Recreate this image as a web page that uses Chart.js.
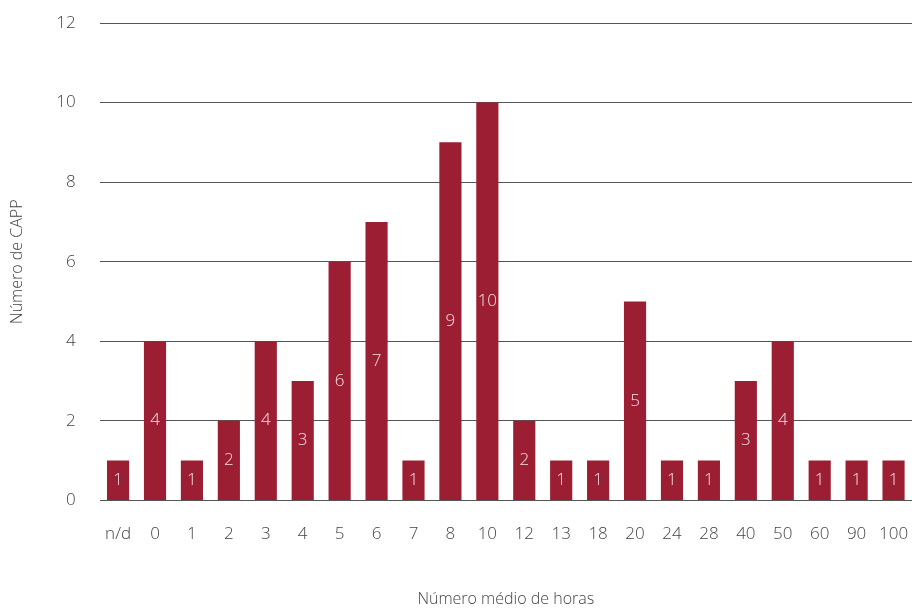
<!DOCTYPE html>
<html>
<head>
<meta charset="utf-8">
<script src="https://cdn.jsdelivr.net/npm/chart.js@4"></script>
<style>
  html, body { margin: 0; padding: 0; background: #fff; overflow: hidden; }
  .container { width: 915px; height: 610px; }
  canvas { display: block; }
</style>
</head>
<body>
<div class="container"><canvas id="myChart"></canvas></div>
<script>
const categories = ["n/d", "0", "1", "2", "3", "4", "5", "6", "7", "8", "10", "12", "13", "18", "20", "24", "28", "40", "50", "60", "90", "100"];
const cappCount = [1, 4, 1, 2, 4, 3, 6, 7, 1, 9, 10, 2, 1, 1, 5, 1, 1, 3, 4, 1, 1, 1];
const yTicks = [0, 2, 4, 6, 8, 10, 12];

const fontFamily = "'Open Sans', 'Noto Sans', sans-serif";

// labels in the middle of each bar
const barLabels = {
    id: 'barLabels',
    afterDatasetsDraw(chart) {
        const ctx = chart.ctx;
        const meta = chart.getDatasetMeta(0);
        ctx.save();
        ctx.font = "300 17px " + fontFamily;
        ctx.fillStyle = '#f3e3e6';
        ctx.textAlign = 'center';
        ctx.textBaseline = 'middle';
        meta.data.forEach((bar, i) => {
            const yMid = (bar.y + bar.base) / 2;
            ctx.fillText(String(cappCount[i]), bar.x, yMid);
        });
        ctx.restore();
    }
};

const ctx = document.getElementById('myChart').getContext('2d');
const myChart = new Chart(ctx, {
    type: 'bar',
    data: {
        labels: categories,
        datasets: [{
            label: 'Número de CAPP',
            data: cappCount,
            backgroundColor: '#9b1e33',
            barPercentage: 0.6,
            categoryPercentage: 1.0
        }]
    },
    options: {
        responsive: true,
        maintainAspectRatio: false,
        animation: false,
        layout: {
            padding: { left: 8, right: 3, top: 23, bottom: 1 }
        },
        plugins: {
            legend: { display: false },
            tooltip: { enabled: false }
        },
        scales: {
            x: {
                afterFit(scale) {
                    scale.paddingLeft = 0;
                    scale.paddingRight = 0;
                },
                grid: { display: false, drawTicks: false },
                border: { display: false },
                ticks: {
                    color: '#444',
                    font: { family: fontFamily, size: 17, weight: '300' },
                    padding: 24,
                    maxRotation: 0,
                    autoSkip: false
                },
                title: {
                    display: true,
                    text: 'Número médio de horas',
                    color: '#444',
                    font: { family: fontFamily, size: 16, weight: '300' },
                    padding: { top: 21, bottom: 0 }
                }
            },
            y: {
                min: 0,
                max: 12,
                afterBuildTicks(axis) {
                    axis.ticks = yTicks.map(v => ({ value: v }));
                },
                afterFit(scale) {
                    scale.paddingTop = 0;
                    scale.paddingBottom = 0;
                },
                grid: {
                    color: '#555',
                    lineWidth: 1,
                    drawTicks: false
                },
                border: { display: false },
                ticks: {
                    color: '#444',
                    font: { family: fontFamily, size: 17, weight: '300' },
                    padding: 24
                },
                title: {
                    display: true,
                    text: 'Número de CAPP',
                    color: '#444',
                    font: { family: fontFamily, size: 16, weight: '300' },
                    padding: { top: 0, bottom: 5 }
                }
            }
        }
    },
    plugins: [barLabels]
});
</script>
</body>
</html>
